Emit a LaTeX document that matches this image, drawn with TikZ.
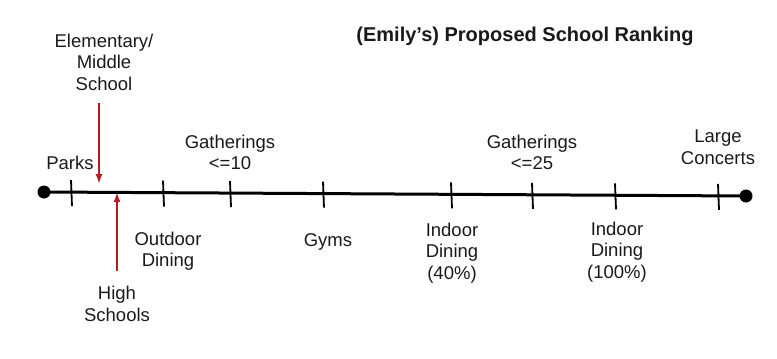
\documentclass[tikz,border=0pt]{standalone}
\usepackage{fontspec}
\setmainfont{Liberation Sans}
\usetikzlibrary{arrows.meta}
\definecolor{arrred}{HTML}{B01E22}
\definecolor{txt}{HTML}{1A1A1A}
\begin{document}
\begin{tikzpicture}[x=1pt,y=-1pt,
  lbl/.style={font=\fontsize{18.5}{21.5}\selectfont, text=txt, align=center, inner sep=0pt},
  endpt/.style={circle, fill=black, inner sep=0pt, minimum size=13pt},
  tick/.style={line width=1.8pt},
  redarrow/.style={draw=arrred, line width=1.8pt, -{Latex[length=10pt,width=7pt]}}]
\useasboundingbox (0,0) rectangle (777,359);
% title
\node[font=\bfseries\fontsize{20}{24}\selectfont, text=txt, inner sep=0pt] (title) at (525,36) {(Emily’s) Proposed School Ranking};
% axis
\node[endpt] (L) at (44,192) {};
\node[endpt] (R) at (746,196) {};
\draw[line width=3pt] (L.center) -- (R.center);
% ticks
\foreach \x/\yy in {71/192.2,163/192.7,230/193.1,323/193.6,451/194.4,532/194.8,615/195.3,718/195.8}{
  \draw[tick] (\x,\yy-12) -- (\x+1,\yy+14);
}
% labels
\node[lbl] (ems) at (104,62) {Elementary/\\Middle\\School};
\node[lbl] (parks) at (70,163) {Parks};
\node[lbl] (g10) at (230,152.5) {Gatherings\\<=10};
\node[lbl] (outd) at (168,251) {Outdoor\\Dining};
\node[lbl] (hs) at (117,304) {High\\Schools};
\node[lbl] (gyms) at (328,242) {Gyms};
\node[lbl] (id40) at (452,253) {Indoor\\Dining\\(40\%)};
\node[lbl] (g25) at (532,152.5) {Gatherings\\<=25};
\node[lbl] (id100) at (617,252) {Indoor\\Dining\\(100\%)};
\node[lbl] (lc) at (718,147) {Large\\Concerts};
% red arrows
\coordinate (emsStart) at (99,103);
\coordinate (emsTip) at (99,184);
\coordinate (hsStart) at (117,271);
\coordinate (hsTip) at (117,192);
\draw[redarrow] (emsStart) -- (emsTip);
\draw[redarrow] (hsStart) -- (hsTip);
\end{tikzpicture}
\end{document}
